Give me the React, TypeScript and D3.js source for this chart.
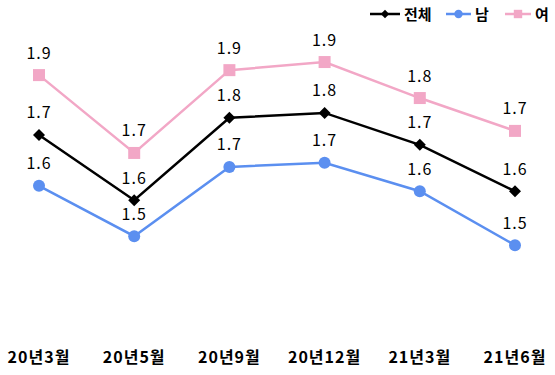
import React from "react";
import * as d3 from "d3";

const categories = ["20년3월", "20년5월", "20년9월", "20년12월", "21년3월", "21년6월"];
const seriesNames = ["전체", "남", "여"];
const totalValues = [1.739, 1.594, 1.777, 1.788, 1.717, 1.614];
const maleValues = [1.626, 1.514, 1.668, 1.677, 1.614, 1.494];
const femaleValues = [1.872, 1.699, 1.883, 1.901, 1.821, 1.748];

const W = 555;
const H = 375;
const FONT = "'Noto Sans CJK KR', 'Noto Sans', sans-serif";

const colors = { total: "#000000", male: "#5B8FF0", female: "#F2A7C6" };

export default function App() {
  const x = d3.scalePoint<string>().domain(categories).range([39, 515]);
  const y = d3.scaleLinear().domain([1.4, 2.0]).range([287.5, 17.5]);
  const line = d3
    .line<number>()
    .x((_, i) => x(categories[i]) as number)
    .y((d) => y(d));
  const fmt = (v: number) => v.toFixed(1);

  const series = [
    { name: seriesNames[0], values: totalValues, color: colors.total, shape: "diamond" },
    { name: seriesNames[1], values: maleValues, color: colors.male, shape: "circle" },
    { name: seriesNames[2], values: femaleValues, color: colors.female, shape: "square" },
  ];

  const marker = (shape: string, cx: number, cy: number, color: string, s = 1) => {
    if (shape === "diamond") {
      const r = 6 * s;
      return <path d={`M${cx},${cy - r}L${cx + r},${cy}L${cx},${cy + r}L${cx - r},${cy}Z`} fill={color} />;
    }
    if (shape === "circle") return <circle cx={cx} cy={cy} r={6 * s} fill={color} />;
    const h = 6 * s;
    return <rect x={cx - h} y={cy - h} width={2 * h} height={2 * h} fill={color} />;
  };

  const legendItems = [
    { x: 370, tx: 404 },
    { x: 446, tx: 475 },
    { x: 505, tx: 535 },
  ];

  return (
    <svg width={W} height={H} style={{ position: "absolute", left: 0, top: 0 }}>
      <rect width={W} height={H} fill="#fff" />
      {series.map((s) => (
        <g key={s.name}>
          <path d={line(s.values) || ""} fill="none" stroke={s.color} strokeWidth={2.5} />
          {s.values.map((v, i) => (
            <g key={i}>{marker(s.shape, x(categories[i]) as number, y(v), s.color)}</g>
          ))}
          {s.values.map((v, i) => (
            <text
              key={"t" + i}
              x={x(categories[i]) as number}
              y={y(v) - 16.5}
              textAnchor="middle"
              fontFamily={FONT}
              fontSize={16}
              letterSpacing={1}
              fill="#000"
            >
              {fmt(v)}
            </text>
          ))}
        </g>
      ))}
      {categories.map((c) => (
        <text
          key={c}
          x={x(c) as number}
          y={363}
          textAnchor="middle"
          fontFamily={FONT}
          fontSize={16}
          letterSpacing={1}
          fontWeight="bold"
          fill="#000"
        >
          {c}
        </text>
      ))}
      {series.map((s, i) => {
        const lx = legendItems[i].x;
        const w = legendItems[i].tx - lx - 4;
        return (
          <g key={"l" + s.name}>
            <line x1={lx} x2={lx + w} y1={14} y2={14} stroke={s.color} strokeWidth={2.5} />
            {marker(s.shape, lx + w / 2, 14, s.color, 0.7)}
            <text
              x={legendItems[i].tx}
              y={19.5}
              fontFamily={FONT}
              fontSize={15}
              fontWeight="bold"
              fill="#000"
            >
              {s.name}
            </text>
          </g>
        );
      })}
    </svg>
  );
}
